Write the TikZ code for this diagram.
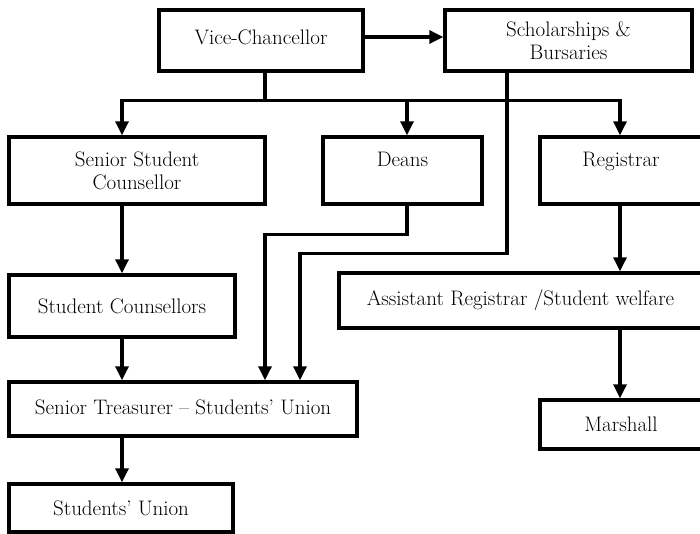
\documentclass[tikz,border=0pt]{standalone}
\usepackage{fontspec}
\usetikzlibrary{arrows.meta}
\begin{document}
\begin{tikzpicture}[x=1pt,y=-1pt,
  box/.style={draw=black, line width=3.4pt, rectangle, inner sep=0pt, align=center,
    font=\fontsize{21}{23}\selectfont},
  conn/.style={draw=black, line width=3.2pt},
  arr/.style={conn, -{Triangle[width=13pt,length=14pt]}}]
\useasboundingbox (0,0) rectangle (700,534);
% boxes
\node[box, minimum width=204pt, minimum height=61pt] (vc) at (261,40.5) {\raisebox{7pt}{Vice-Chancellor}};
\node[box, minimum width=247pt, minimum height=61pt] (sch) at (568.5,40.5) {Scholarships \&\\Bursaries};
\node[box, minimum width=256pt, minimum height=67pt] (ssc) at (137,170.5) {Senior Student\\Counsellor};
\node[box, minimum width=159pt, minimum height=67pt] (deans) at (402.5,170.5) {Deans\\\mbox{}};
\node[box, minimum width=162pt, minimum height=67pt] (reg) at (621,170.5) {Registrar\\\mbox{}};
\node[box, minimum width=226pt, minimum height=62pt] (sc) at (122,306) {Student Counsellors};
\node[box, minimum width=363pt, minimum height=55pt] (ar) at (520.5,300.5) {Assistant Registrar /Student welfare};
\node[box, minimum width=348pt, minimum height=54pt] (st) at (183,409) {\raisebox{3pt}{Senior Treasurer -- Students' Union}};
\node[box, minimum width=162pt, minimum height=49pt] (mar) at (621,424.5) {Marshall};
\node[box, minimum width=224pt, minimum height=48pt] (su) at (121,508) {Students' Union};
% connectors
\draw[arr] ([yshift=3.5pt]vc.east) -- ([yshift=3.5pt]sch.west);
\draw[conn] ([xshift=4pt]vc.south) -- ++(0,28) coordinate (j);
\draw[arr] (j) -| ([xshift=-15pt]ssc.north);
\draw[arr] (j) -| ([xshift=4.5pt]deans.north);
\draw[arr] (j) -| ([xshift=-1pt]reg.north);
\draw[arr] ([xshift=4.5pt]deans.south) -- ++(0,29) -| ([xshift=82pt]st.north);
\draw[arr] ([xshift=-61.5pt]sch.south) -- ++(0,181) -| ([xshift=117pt]st.north);
\draw[arr] ([xshift=-15pt]ssc.south) -- (sc.north);
\draw[arr] ([xshift=-1pt]reg.south) -- ([xshift=-1pt]reg.south |- ar.north);
\draw[arr] ([xshift=-1pt]mar.north |- ar.south) -- ([xshift=-1pt]mar.north);
\draw[arr] (sc.south) -- (sc.south |- st.north);
\draw[arr] ([xshift=1pt]su.north |- st.south) -- ([xshift=1pt]su.north);
\end{tikzpicture}
\end{document}
